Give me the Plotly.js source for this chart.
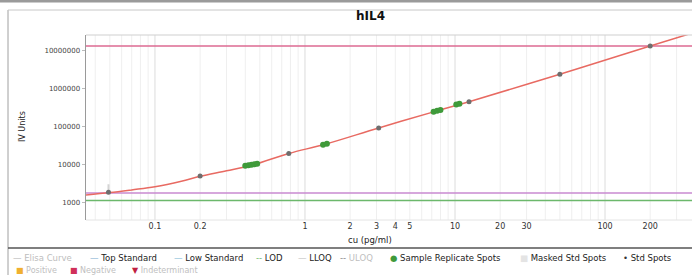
<!DOCTYPE html>
<html><head><meta charset="utf-8">
<script src="https://cdn.plot.ly/plotly-3.0.1.min.js"></script>
<style>html,body{margin:0;padding:0;background:#fff}#c{width:692px;height:275px}</style>
</head><body><div id="c"></div>
<script>
// Elisa curve (fitted)
const curveX = [0.0347, 0.05, 0.07, 0.1, 0.15, 0.2, 0.3, 0.45, 0.78, 1.36, 3.1, 7.6, 12.4, 50, 200, 380];
const curveY = [1620, 1870, 2200, 2650, 3700, 5000, 7000, 10000, 20000, 35000, 94000, 265000, 460000, 2450000, 13500000, 29500000];
// Std spots
const stdX = [0.049, 0.2, 0.78, 3.1, 12.4, 50, 200];
const stdY = [1900, 5100, 20000, 94000, 460000, 2450000, 13500000];
// Masked std spots
const maskedX = [0.049];
const maskedY = [2400];
// Sample replicate spots
const sampleX = [0.40, 0.42, 0.44, 0.46, 0.48, 1.32, 1.40, 7.2, 7.6, 8.0, 10.2, 10.7];
const sampleY = [9500, 9800, 10100, 10400, 10700, 34000, 36000, 250000, 265000, 280000, 390000, 410000];
// Reference levels
const topStandard = 13500000;
const lowStandard = 1830;
const lod = 1150;
const xRange = [0.0347, 380];
// Ticks
const xTickVals = [0.1, 0.2, 1, 2, 3, 4, 5, 10, 20, 30, 100, 200, 400];
const xTickText = ['0.1', '0.2', '1', '2', '3', '4', '5', '10', '20', '30', '100', '200', '400'];
const yTickVals = [1000, 10000, 100000, 1000000, 10000000];
const yTickText = ['1000', '10000', '100000', '1000000', '10000000'];
// minor grid positions
const gridX = [];
for (let d = -2; d <= 2; d++) for (let m = 1; m <= 9; m++) gridX.push(m * Math.pow(10, d));

const W = 692, H = 275;
const ML = 86, MT = 35, PW = 606, PH = 185;
// pixel -> paper (plot-area) coordinates
const px = v => (v - ML) / PW, py = v => (MT + PH - v) / PH;

const traces = [
  {x: [xRange[0], xRange[1]], y: [topStandard, topStandard], mode: 'lines', line: {color: '#dc6a92', width: 1.5}, hoverinfo: 'skip'},
  {x: [xRange[0], xRange[1]], y: [lowStandard, lowStandard], mode: 'lines', line: {color: '#c98ad0', width: 1.5}, hoverinfo: 'skip'},
  {x: [xRange[0], xRange[1]], y: [lod, lod], mode: 'lines', line: {color: '#6cb86c', width: 1.5}, hoverinfo: 'skip'},
  {x: curveX, y: curveY, mode: 'lines', line: {color: '#e86a62', width: 1.5, shape: 'spline'}},
  {x: maskedX, y: maskedY, mode: 'markers', marker: {color: '#d8d8d8', size: 6, symbol: 'line-ns', line: {color: '#d4d4d4', width: 2}}},
  {x: sampleX, y: sampleY, mode: 'markers', marker: {color: '#3f9a3a', size: 6}},
  {x: stdX, y: stdY, mode: 'markers', marker: {color: '#6e6e6e', size: 5}}
];

const shapes = [];
gridX.forEach(g => {
  const major = [0.1, 1, 10, 100].includes(g);
  shapes.push({type: 'line', xref: 'x', yref: 'paper', x0: g, x1: g, y0: 0, y1: 1,
    line: {color: major ? '#dcdcdc' : '#efefef', width: 1}, layer: 'below'});
});
// frame and separators
shapes.push({type: 'rect', xref: 'paper', yref: 'paper', x0: px(0), x1: px(692), y0: py(0), y1: py(2.5), fillcolor: '#9a9a9a', line: {width: 0}});
shapes.push({type: 'line', xref: 'paper', yref: 'paper', x0: px(8), x1: px(8), y0: py(10), y1: py(275), line: {color: '#a0a0a0', width: 1}});
shapes.push({type: 'line', xref: 'paper', yref: 'paper', x0: px(8), x1: px(692), y0: py(10), y1: py(10), line: {color: '#c8c8c8', width: 1}});
shapes.push({type: 'line', xref: 'paper', yref: 'paper', x0: px(8), x1: px(692), y0: py(248), y1: py(248), line: {color: '#555555', width: 1.5}});
shapes.push({type: 'line', xref: 'paper', yref: 'paper', x0: px(86), x1: px(692), y0: py(35), y1: py(35), line: {color: '#cfcfcf', width: 1}});
shapes.push({type: 'line', xref: 'paper', yref: 'paper', x0: px(86), x1: px(692), y0: py(220), y1: py(220), line: {color: '#e4e4e4', width: 1}});

const F = 'DejaVu Sans, Verdana, sans-serif';
const ann = [];
function txt(x, y, s, color, size) {
  ann.push({xref: 'paper', yref: 'paper', x: px(x), y: py(y), text: s, showarrow: false,
    xanchor: 'left', yanchor: 'middle', font: {family: F, size: size || 8.5, color: color}});
}
// legend row 1
txt(11, 258, '— Elisa Curve', '#bdbdbd');
txt(88, 258, '<span style="color:#8fb7d8">—</span> Top Standard', '#222');
txt(172, 258, '<span style="color:#8fc4dc">—</span> Low Standard', '#222');
txt(254, 258, '<span style="color:#6cb86c">--</span> LOD', '#222');
txt(296, 258, '<span style="color:#c8c8c8">—</span> LLOQ', '#222');
txt(338, 258, '<span style="color:#888">--</span> <span style="color:#c0c0c0">ULOQ</span>', '#222');
txt(388, 258, '<span style="color:#3f9a3a">●</span> Sample Replicate Spots', '#222');
txt(518, 258, '<span style="color:#e4e4e4">■</span> Masked Std Spots', '#222');
txt(621, 258, '<span style="color:#333">•</span> Std Spots', '#222');
// legend row 2
txt(14, 270, '<span style="color:#f0b030">■</span> Positive', '#c0c0c0', 8);
txt(68, 270, '<span style="color:#d0305a">■</span> Negative', '#c0c0c0', 8);
txt(130, 270, '<span style="color:#c02040">▼</span> Indeterminant', '#c0c0c0', 8);
// title and axis titles
ann.push({xref: 'paper', yref: 'paper', x: px(370), y: py(16), text: '<b>hIL4</b>', showarrow: false,
  xanchor: 'center', yanchor: 'middle', font: {family: F, size: 12, color: '#111'}});
ann.push({xref: 'paper', yref: 'paper', x: px(370), y: py(240), text: 'cu (pg/ml)', showarrow: false,
  xanchor: 'center', yanchor: 'middle', font: {family: F, size: 8.5, color: '#222'}});
ann.push({xref: 'paper', yref: 'paper', x: px(22), y: py(127), text: 'IV Units', showarrow: false, textangle: -90,
  xanchor: 'center', yanchor: 'middle', font: {family: F, size: 8, color: '#222'}});

const layout = {
  width: W, height: H,
  margin: {l: ML, r: 0, t: MT, b: H - MT - PH, pad: 0},
  paper_bgcolor: '#fff', plot_bgcolor: '#fff',
  showlegend: false,
  xaxis: {type: 'log', range: [Math.log10(xRange[0]), Math.log10(xRange[1])], tickvals: xTickVals, ticktext: xTickText,
    showgrid: false, zeroline: false, showline: false, ticks: '', tickfont: {family: F, size: 8, color: '#333'}},
  yaxis: {type: 'log', range: [2.55, 7.42], tickvals: yTickVals, ticktext: yTickText,
    showgrid: false, zeroline: false, showline: true, linecolor: '#9a9a9a', linewidth: 1.5,
    ticks: 'outside', ticklen: 3, tickcolor: '#bbb', tickfont: {family: F, size: 7, color: '#444'}},
  shapes: shapes,
  annotations: ann
};
Plotly.newPlot('c', traces, layout, {staticPlot: true, displayModeBar: false});
</script></body></html>
